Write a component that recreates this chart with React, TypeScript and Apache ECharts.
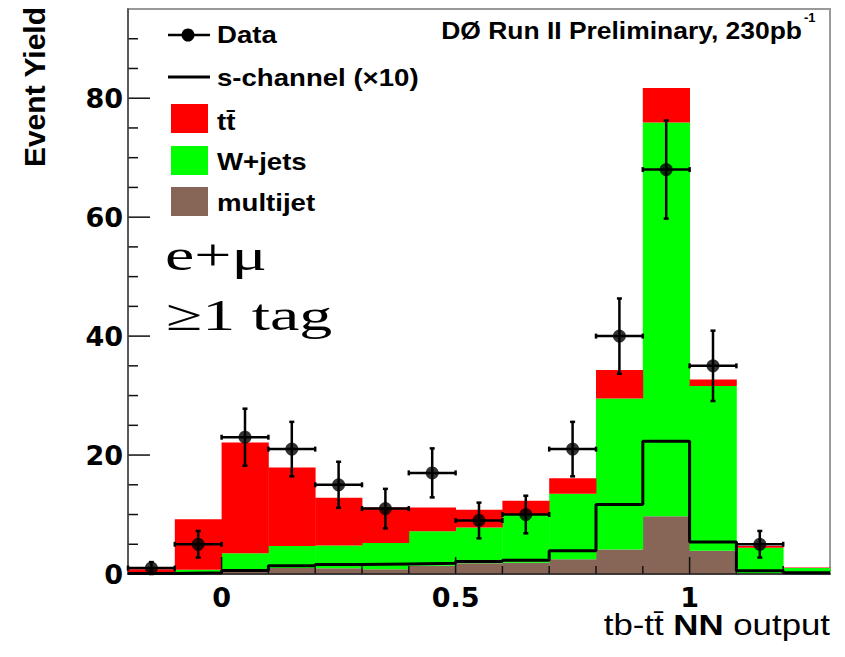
import React, { useEffect, useRef } from "react";
import * as echarts from "echarts";

// ---- data (bins of width 0.1 from -0.2 to 1.3) ----
const binLow = [-0.2, -0.1, 0.0, 0.1, 0.2, 0.3, 0.4, 0.5, 0.6, 0.7, 0.8, 0.9, 1.0, 1.1, 1.2];
const BIN_W = 0.1;
const multijet = [0.0, 0.1, 0.4, 1.0, 0.95, 0.8, 1.4, 1.8, 1.9, 2.5, 4.1, 9.7, 3.9, 0.1, 0.1];
const wjets = [0.2, 0.6, 3.1, 3.7, 3.85, 4.4, 5.8, 6.0, 8.1, 11.0, 25.4, 66.2, 27.7, 4.3, 0.9];
const ttbar = [0.6, 8.5, 18.6, 13.2, 8.0, 6.0, 4.0, 3.0, 2.3, 2.6, 4.8, 5.8, 1.1, 0.3, 0.1];
const schannelX10 = [0.1, 0.2, 0.6, 1.4, 1.6, 1.7, 1.8, 2.1, 2.3, 3.9, 11.7, 22.3, 5.4, 0.55, 0.2];
const dataCounts = [1, 5, 23, 21, 15, 11, 17, 9, 10, 21, 40, 68, 35, 5, 0];

const X_MIN = -0.2;
const X_MAX = 1.3;
const Y_MIN = 0;
const Y_MAX = 95;
const xLabelValues = [0, 0.5, 1];
const xMinorTicks = [-0.1, 0.1, 0.2, 0.3, 0.4, 0.6, 0.7, 0.8, 0.9, 1.1, 1.2];
const yLabelValues = [0, 20, 40, 60, 80];
const yMinorTicks = [5, 10, 15, 25, 30, 35, 45, 50, 55, 65, 70, 75, 85, 90];

const COL_MJ = "#876657";
const COL_W = "#00ff00";
const COL_TT = "#ff0000";

function stackRects(vals: number[], base: number[]) {
  return binLow.map((x, i) => [x, x + BIN_W, base[i], base[i] + vals[i]]);
}

function rectSeries(name: string, color: string, data: number[][]) {
  return {
    type: "custom",
    name,
    silent: true,
    z: 2,
    encode: { x: [0, 1], y: [2, 3] },
    data,
    renderItem: (_p: any, api: any) => {
      const a = api.coord([api.value(0), api.value(3)]);
      const b = api.coord([api.value(1), api.value(2)]);
      return {
        type: "rect",
        shape: { x: a[0], y: a[1], width: b[0] - a[0] + 0.4, height: b[1] - a[1] },
        style: { fill: color },
      };
    },
  };
}

// tick marks drawn inside the frame at axis positions from the scales
// data item: [x, y, lengthPx, dirFlag (0 = up from x axis, 1 = right from y axis)]
function tickSeries() {
  const data: number[][] = [];
  xLabelValues.forEach((v) => data.push([v, Y_MIN, 17, 0]));
  xMinorTicks.forEach((v) => data.push([v, Y_MIN, 8, 0]));
  yLabelValues.forEach((v) => data.push([X_MIN, v, 22, 1]));
  yMinorTicks.forEach((v) => data.push([X_MIN, v, 10, 1]));
  return {
    type: "custom",
    id: "axisTicks",
    silent: true,
    z: 3,
    clip: false,
    encode: { x: 0, y: 1 },
    data,
    renderItem: (_p: any, api: any) => {
      const p = api.coord([api.value(0), api.value(1)]);
      const len = api.value(2);
      const dir = api.value(3);
      const st = { stroke: "#111", lineWidth: 1.5 };
      if (dir === 0) {
        return { type: "line", shape: { x1: p[0], y1: p[1], x2: p[0], y2: p[1] - len }, style: st };
      }
      return { type: "line", shape: { x1: p[0], y1: p[1], x2: p[0] + len, y2: p[1] }, style: st };
    },
  };
}

export default function App() {
  const ref = useRef<HTMLDivElement>(null);
  useEffect(() => {
    document.body.style.margin = "0";
    const chart = echarts.init(ref.current!, null, { renderer: "svg" });

    const zero = binLow.map(() => 0);
    const mjTop = multijet.map((v) => v);
    const wTop = wjets.map((v, i) => v + mjTop[i]);
    const mjData = stackRects(multijet, zero);
    const wData = stackRects(wjets, mjTop);
    const ttData = stackRects(ttbar, wTop);

    const sData: number[][] = binLow.map((x, i) => [x, schannelX10[i]]);
    sData.push([binLow[binLow.length - 1] + BIN_W, schannelX10[schannelX10.length - 1]]);

    const pts: number[][] = [];
    binLow.forEach((x, i) => {
      if (dataCounts[i] > 0) pts.push([x + BIN_W / 2, dataCounts[i], Math.sqrt(dataCounts[i])]);
    });

    const labelFont = {
      fontFamily: "DejaVu Sans",
      fontWeight: "bold",
      fontSize: 27,
      color: "#000",
    };
    const sans = "Liberation Sans";

    const option: any = {
      animation: false,
      backgroundColor: "#fff",
      grid: {
        left: 128,
        right: 15,
        top: 9,
        bottom: 83,
        show: true,
        borderColor: "#999",
        borderWidth: 2,
        backgroundColor: "transparent",
      },
      xAxis: {
        type: "value",
        min: X_MIN,
        max: X_MAX,
        position: "bottom",
        z: 3,
        splitLine: { show: false },
        axisLine: { show: true, onZero: false, lineStyle: { color: "#222", width: 1.5 } },
        axisTick: { show: false },
        axisLabel: { show: true, customValues: xLabelValues, margin: 10, ...labelFont },
      },
      yAxis: {
        type: "value",
        min: Y_MIN,
        max: Y_MAX,
        position: "left",
        z: 3,
        splitLine: { show: false },
        axisLine: { show: true, onZero: false, lineStyle: { color: "#444", width: 1.5 } },
        axisTick: { show: false },
        axisLabel: { show: true, customValues: yLabelValues, margin: 5, ...labelFont },
      },
      series: [
        rectSeries("multijet", COL_MJ, mjData),
        rectSeries("W+jets", COL_W, wData),
        rectSeries("tt̄", COL_TT, ttData),
        tickSeries(),
        {
          type: "line",
          name: "s-channel (×10)",
          step: "end",
          data: sData,
          symbol: "none",
          z: 4,
          silent: true,
          lineStyle: { color: "#000", width: 3 },
        },
        {
          type: "custom",
          name: "Data errors",
          silent: true,
          z: 5,
          encode: { x: 0, y: 1 },
          data: pts,
          renderItem: (_p: any, api: any) => {
            const x = api.value(0);
            const n = api.value(1);
            const e = api.value(2);
            const top = api.coord([x, n + e]);
            const bot = api.coord([x, Math.max(0, n - e)]);
            const l = api.coord([x - BIN_W / 2, n]);
            const r = api.coord([x + BIN_W / 2, n]);
            const st = { stroke: "#000", lineWidth: 2.5 };
            const c = 2.5;
            return {
              type: "group",
              children: [
                { type: "line", shape: { x1: top[0], y1: top[1], x2: bot[0], y2: bot[1] }, style: st },
                { type: "line", shape: { x1: l[0], y1: l[1], x2: r[0], y2: r[1] }, style: st },
                { type: "line", shape: { x1: top[0] - c, y1: top[1], x2: top[0] + c, y2: top[1] }, style: st },
                { type: "line", shape: { x1: bot[0] - c, y1: bot[1], x2: bot[0] + c, y2: bot[1] }, style: st },
                { type: "line", shape: { x1: l[0], y1: l[1] - c, x2: l[0], y2: l[1] + c }, style: st },
                { type: "line", shape: { x1: r[0], y1: r[1] - c, x2: r[0], y2: r[1] + c }, style: st },
              ],
            };
          },
        },
        {
          type: "scatter",
          name: "Data",
          data: pts.map((p) => [p[0], p[1]]),
          symbol: "circle",
          symbolSize: 13,
          z: 6,
          silent: true,
          itemStyle: { color: "#000" },
        },
      ],
      graphic: [
        // legend
        { type: "line", shape: { x1: 168, y1: 35, x2: 210, y2: 35 }, style: { stroke: "#000", lineWidth: 2.5 } },
        { type: "circle", shape: { cx: 188, cy: 35, r: 6.5 }, style: { fill: "#000" } },
        { type: "text", x: 217, y: 35, scaleX: 1.2, style: { text: "Data", font: `bold 23px '${sans}'`, fill: "#000", verticalAlign: "middle" } },
        { type: "line", shape: { x1: 168, y1: 77, x2: 210, y2: 77 }, style: { stroke: "#000", lineWidth: 3 } },
        { type: "text", x: 217, y: 78, scaleX: 1.2, style: { text: "s-channel (×10)", font: `bold 23px '${sans}'`, fill: "#000", verticalAlign: "middle" } },
        { type: "rect", shape: { x: 171, y: 104, width: 37, height: 29 }, style: { fill: COL_TT } },
        { type: "text", x: 217, y: 122, scaleX: 1.2, style: { text: "tt̄", font: `bold 23px '${sans}'`, fill: "#000", verticalAlign: "middle" } },
        { type: "rect", shape: { x: 171, y: 146, width: 37, height: 29 }, style: { fill: COL_W } },
        { type: "text", x: 217, y: 162, scaleX: 1.2, style: { text: "W+jets", font: `bold 23px '${sans}'`, fill: "#000", verticalAlign: "middle" } },
        { type: "rect", shape: { x: 171, y: 187, width: 37, height: 29 }, style: { fill: COL_MJ } },
        { type: "text", x: 217, y: 203, scaleX: 1.2, style: { text: "multijet", font: `bold 23px '${sans}'`, fill: "#000", verticalAlign: "middle" } },
        // header
        { type: "text", x: 802, y: 31, scaleX: 1.15, style: { text: "DØ Run II Preliminary, 230pb", font: `bold 23px '${sans}'`, fill: "#000", align: "right", verticalAlign: "middle" } },
        { type: "text", x: 804, y: 17, style: { text: "-1", font: `bold 13px '${sans}'`, fill: "#000", align: "left", verticalAlign: "middle" } },
        // channel labels
        { type: "text", x: 165, y: 255, scaleX: 1.5, style: { text: "e+μ", font: `44px 'Liberation Serif'`, fill: "#000", verticalAlign: "middle" } },
        { type: "text", x: 166, y: 315, scaleX: 1.5, style: { text: "≥1 tag", font: `44px 'Liberation Serif'`, fill: "#000", verticalAlign: "middle" } },
        // axis titles
        { type: "text", x: 34, y: 7, rotation: Math.PI / 2, style: { text: "Event Yield", font: `bold 30px '${sans}'`, fill: "#000", align: "right", verticalAlign: "middle" } },
        {
          type: "text",
          x: 830,
          y: 625,
          scaleX: 1.2,
          style: {
            text: "{r|tb-tt̄ }{b|NN}{r| output}",
            align: "right",
            verticalAlign: "middle",
            fill: "#000",
            rich: {
              r: { fontFamily: sans, fontSize: 29, fontWeight: "normal", fill: "#000" },
              b: { fontFamily: sans, fontSize: 29, fontWeight: "bold", fill: "#000" },
            },
          },
        },
      ],
    };

    chart.setOption(option);
    return () => chart.dispose();
  }, []);
  return <div ref={ref} style={{ width: 845, height: 657 }} />;
}
